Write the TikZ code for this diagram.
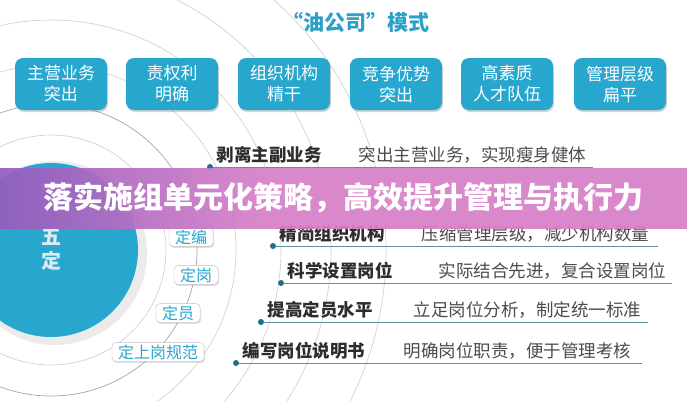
\documentclass[tikz,border=0pt]{standalone}
\usepackage{fontspec}
\setmainfont{Noto Sans CJK SC}
\usepackage{tikz}
\usetikzlibrary{shadows}

\definecolor{oiltq}{RGB}{40,167,206}
\definecolor{oiltitle}{RGB}{45,160,200}
\definecolor{bannerl}{RGB}{150,92,190}
\definecolor{bannerr}{RGB}{214,128,200}
\definecolor{rowtxt}{RGB}{45,45,45}
\definecolor{rowdot}{RGB}{30,110,140}
\definecolor{rowline}{RGB}{95,145,160}
\definecolor{arcgrey}{RGB}{205,205,205}
\definecolor{wutxt}{RGB}{225,232,238}

\pgfdeclarehorizontalshading{bannershade}{100bp}{color(0bp)=(bannerl); color(25bp)=(bannerl); color(44bp)=(bannerr); color(100bp)=(bannerr)}

\tikzset{
	modebox/.style={rounded corners=8pt, fill=oiltq, text=white, minimum width=92pt, minimum height=52pt, align=center,
		font=\fontsize{17}{21}\selectfont, drop shadow={shadow xshift=1pt, shadow yshift=-2pt, opacity=0.35}},
	dingbox/.style={rounded corners=4pt, draw=black!25, fill=white, text=oiltq, inner xsep=6pt, inner ysep=2pt,
		font=\fontsize{16}{18}\selectfont, drop shadow={shadow xshift=1pt, shadow yshift=-1.5pt, opacity=0.25}},
	rowdotnode/.style={circle, fill=rowdot, inner sep=0pt, minimum size=6pt},
	rowlab/.style={anchor=west, text=rowtxt, font=\bfseries\fontsize{17.5}{20}\selectfont},
	rowdesc/.style={anchor=west, text=rowtxt!85, font=\fontsize{17.5}{20}\selectfont},
	rowlinestyle/.style={draw=rowline, line width=1pt},
	arcline/.style={draw=arcgrey, line width=0.6pt},
	banner/.style={shade, shading=bannershade, minimum width=690pt, minimum height=60pt, text=white,
		font=\bfseries\fontsize{30}{33}\selectfont, fill opacity=0.93, text opacity=1}
}

\begin{document}
\begin{tikzpicture}[x=1pt,y=-1pt]
			\useasboundingbox (0,0) rectangle (687,400);
			\clip (0,0) rectangle (687,400);
			\fill[white] (0,0) rectangle (687,400);
			\coordinate (ctr) at (51,250);
			\foreach \r in {115,185,230,280,335} {
				\draw[arcline] (ctr) circle[radius=\r pt];
			}
			\fill[black!8] (55,253) circle[radius=92pt];
			\node[circle, fill=oiltq, minimum size=174pt, align=center, text=wutxt,
				font=\bfseries\fontsize{20}{24}\selectfont] (five) at (ctr) {五\\定};
			\draw[black!35, line width=0.7pt] (ctr) circle[radius=146pt];
			\foreach \i/\x/\y/\txt in {1/191/237/定编, 2/196/275/定岗, 3/178/313/定员, 4/158/352/定上岗规范} {
				\node[dingbox] (L\i) at (\x,\y) {\txt};
			}
			\foreach \i/\dx/\dy/\ex/\sx/\rowname/\rowtext in {
				1/210/167/593/355/剥离主副业务/突出主营业务，实现瘦身健体,
				2/273/246/658/418/精简组织机构/压缩管理层级，减少机构数量,
				3/281/283/672/435/科学设置岗位/实际结合先进，复合设置岗位,
				4/261/322/648/410/提高定员水平/立足岗位分析，制定统一标准,
				5/236/363/642/400/编写岗位说明书/明确岗位职责，便于管理考核} {
				\node[rowdotnode] (D\i) at (\dx,\dy) {};
				\coordinate (E\i) at (\ex,\dy);
				\draw[rowlinestyle] (D\i) -- (E\i);
				\node[rowlab] (R\i) at (\dx+3,\dy-12) {\rowname};
				\node[rowdesc] (S\i) at (\sx,\dy-12) {\rowtext};
			}
			\foreach \i/\x/\txt in {1/61/{主营业务\\突出}, 2/172/{责权利\\明确}, 3/284/{组织机构\\精干},
				4/396/{竞争优势\\突出}, 5/507/{高素质\\人才队伍}, 6/620/{管理层级\\扁平}} {
				\node[modebox] (B\i) at (\x,84) {\txt};
			}
			\node[text=oiltitle, font=\bfseries\fontsize{21}{24}\selectfont] (title) at (356,22) {“油公司”模式};
			\node[banner] (ban) at (343.5,198) {落实施组单元化策略，高效提升管理与执行力};
		\end{tikzpicture}
\end{document}
